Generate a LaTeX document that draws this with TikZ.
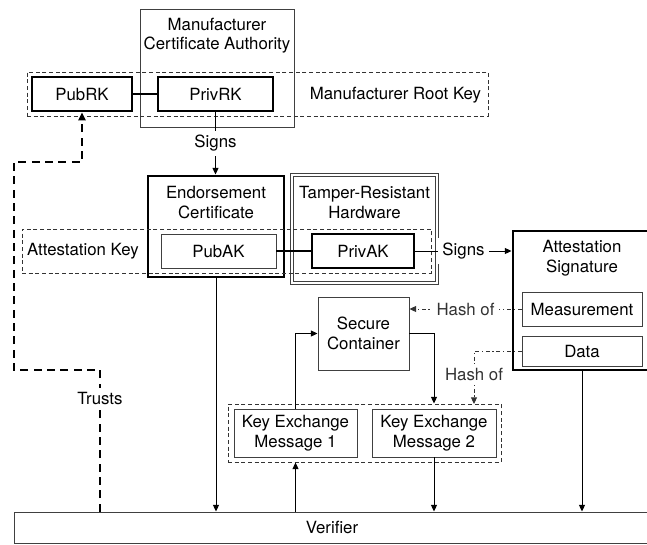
\documentclass[tikz,border=0pt]{standalone}
\usepackage{fontspec}
\setmainfont{TeX Gyre Heros}
\usetikzlibrary{arrows.meta,positioning}
\tikzset{
  box/.style={rectangle,draw=black!75,line width=0.7pt,inner sep=2pt,align=center},
  keybox/.style={box,draw=black,line width=2.2pt},
  grp/.style={rectangle,draw=black!80,line width=0.7pt,dash pattern=on 3pt off 2pt},
  hw/.style={rectangle,draw=black!75,line width=0.5pt,double,double distance=1.6pt},
  arr/.style={-{Triangle[length=5pt,width=4.5pt]},line width=0.7pt},
  link/.style={line width=1pt},
  trust/.style={-{Triangle[length=6pt,width=5.5pt]},line width=1.5pt,dash pattern=on 6pt off 4pt},
  hash/.style={arr,black!80,dash pattern=on 3pt off 2pt on 1pt off 2pt},
  every node/.style={font=\fontsize{12.6}{14.6}\selectfont}
}
\begin{document}
\begin{tikzpicture}[x=0.75pt,y=-0.75pt]
\useasboundingbox (0,0) rectangle (647,544);
\clip (0,0) rectangle (647,544);
% groups
\node[box,minimum width=115.5pt,minimum height=88.5pt] (mca) at (217,68) {};
\node[align=center] (mcatxt) at (217,35.5) {Manufacturer\\Certificate Authority};
\node[grp,minimum width=345.75pt,minimum height=33pt] (mrk) at (257.5,94) {};
\node (mrktxt) at (395.5,95) {Manufacturer Root Key};
\node[keybox,minimum width=102pt,minimum height=75.75pt] (endorse) at (216,226.5) {};
\node[align=center] (endtxt) at (216,202.5) {Endorsement\\Certificate};
\node[hw,minimum width=108.75pt,minimum height=81pt] (trh) at (364.5,229) {};
\node[align=center] (trhtxt) at (364.5,202.5) {Tamper-Resistant\\Hardware};
\node[grp,minimum width=306.75pt,minimum height=33pt] (ak) at (226.5,251) {};
\node (aktxt) at (83,251) {Attestation Key};
\node[keybox,minimum width=103.5pt,minimum height=104.25pt] (attsig) at (582,300.5) {};
\node[align=center] (attxt) at (582,258) {Attestation\\Signature};
\node[grp,minimum width=204.75pt,minimum height=43.5pt] (kex) at (364.5,433) {};
% keys
\node[keybox,minimum width=75pt,minimum height=25.5pt] (pubrk) at (82,94) {PubRK};
\node[keybox,minimum width=86.25pt,minimum height=25.5pt] (privrk) at (215.5,94) {PrivRK};
\node[box,minimum width=86.25pt,minimum height=25.5pt] (pubak) at (218.5,251) {PubAK};
\node[keybox,minimum width=76.5pt,minimum height=25.5pt] (privak) at (363,251) {PrivAK};
\node[box,minimum width=90pt,minimum height=25.5pt] (meas) at (582,309) {Measurement};
\node[box,minimum width=90pt,minimum height=22.5pt] (data) at (582,351) {Data};
\node[box,minimum width=68.25pt,minimum height=54.75pt] (sc) at (363.5,333.5) {Secure\\Container};
\node[box,minimum width=92.25pt,minimum height=36pt] (kem1) at (295.5,433) {Key Exchange\\Message 1};
\node[box,minimum width=93pt,minimum height=36pt] (kem2) at (434,433) {Key Exchange\\Message 2};
\node[box,minimum width=477pt,minimum height=23.25pt] (verifier) at (332,527.5) {Verifier};
\coordinate (hashin) at (474,404);
\coordinate (tr1) at (100,370);
\coordinate (tr2) at (14,162);
% connectors
\draw[link] (pubrk) -- (privrk);
\draw[link] (pubak) -- (privak);
\draw[arr] (privrk.south) -- node[fill=white]{Signs} (privrk.south |- endorse.north);
\draw[arr] (privak.east) -- node[fill=white]{Signs} (privak.east -| attsig.west);
\draw[arr] (endorse.south) -- (endorse.south |- verifier.north);
\draw[arr] (kem2.south) -- (kem2.south |- verifier.north);
\draw[arr] (attsig.south -| data) -- (data |- verifier.north);
\draw[arr] (kem1.south |- verifier.north) -- (kem1.south |- kex.south);
\draw[arr] (kem1.north) |- (sc.west);
\draw[arr] (sc.east) -| (kem2.north |- kex.north);
\draw[hash] (meas.west) -- node[fill=white]{Hash of} (meas.west -| sc.east);
\draw[hash] (data.west) -| node[pos=0.72,fill=white]{Hash of} (hashin);
\draw[trust] (verifier.north -| tr1) -- node[pos=0.8,fill=white]{Trusts} (tr1) -| (tr2) -| (pubrk.south);
\end{tikzpicture}
\end{document}
